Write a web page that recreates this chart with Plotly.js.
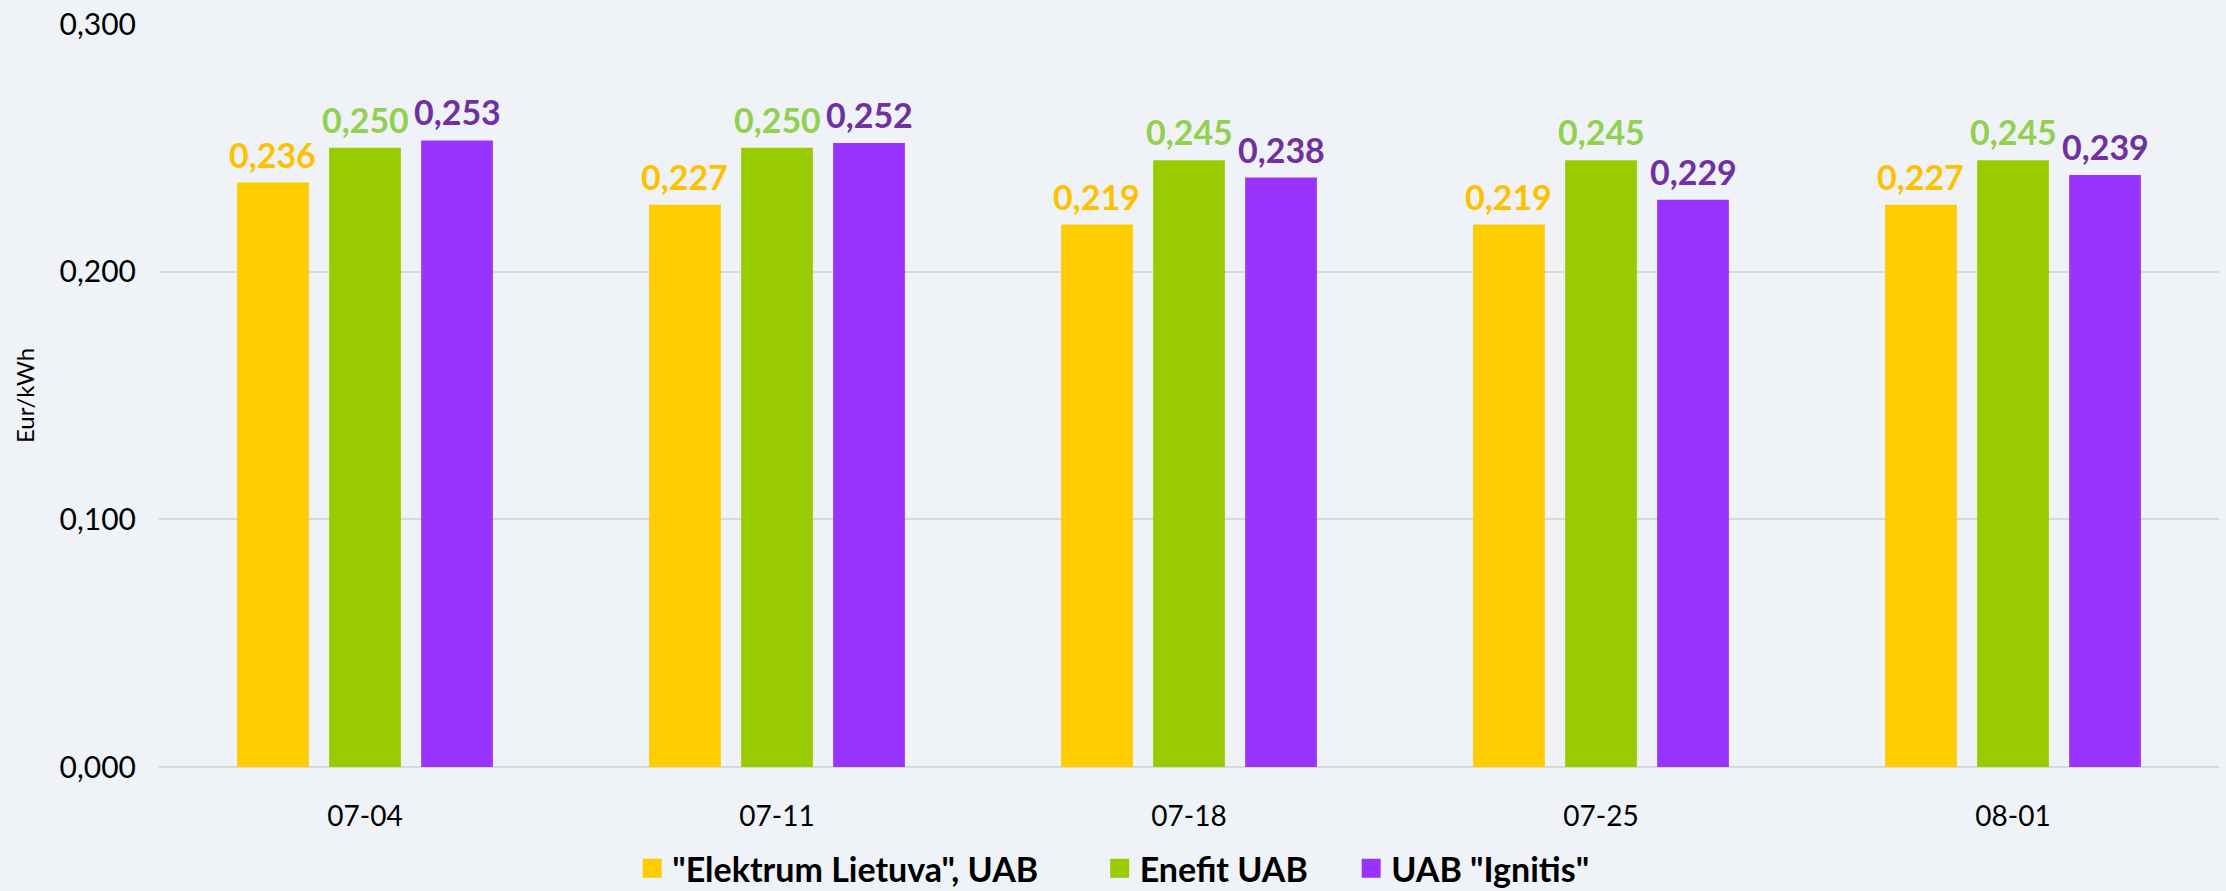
<!DOCTYPE html>
<html>
<head>
<meta charset="utf-8">
<script src="https://cdn.plot.ly/plotly-3.0.1.min.js"></script>
<style>html,body{margin:0;padding:0;background:#EFF3F7;}#chart{width:2226px;height:891px;}</style>
</head>
<body>
<div id="chart"></div>
<script>
const categories = ["07-04", "07-11", "07-18", "07-25", "08-01"];
const seriesNames = ["\"Elektrum Lietuva\", UAB", "Enefit UAB", "UAB \"Ignitis\""];
const elektrum = [0.236, 0.227, 0.219, 0.219, 0.227];
const enefit = [0.250, 0.250, 0.245, 0.245, 0.245];
const ignitis = [0.253, 0.252, 0.238, 0.229, 0.239];
const yTicks = [0, 0.1, 0.2, 0.3];

const barColors = ["#FFCC00", "#99CC00", "#9933FF"];
const labelColors = ["#FFC000", "#92D050", "#7030A0"];
const values = [elektrum, enefit, ignitis];
const BARGAP = 0.33;
const legendIds = ['legend', 'legend2', 'legend3'];
const legendX = [0.284, 0.494, 0.607];

const fmt = v => v.toFixed(3).replace('.', ',');

const traces = values.map((vals, i) => ({
  type: 'bar',
  name: seriesNames[i],
  x: categories,
  y: vals,
  marker: {color: barColors[i]},
  showlegend: false,
  hoverinfo: 'x+y'
}));

// legend-only entries with larger square swatches
values.forEach((vals, i) => {
  traces.push({
    type: 'scatter',
    mode: 'markers',
    name: seriesNames[i],
    x: [null],
    y: [null],
    legend: legendIds[i],
    marker: {symbol: 'square', size: 16, color: barColors[i], line: {width: 3, color: barColors[i]}},
    showlegend: true,
    hoverinfo: 'skip'
  });
});

// value labels placed at each bar's top via the axis scales
const slot = (1 - BARGAP) / values.length;
const annotations = [];
values.forEach((vals, j) => {
  vals.forEach((v, i) => {
    annotations.push({
      xref: 'x', yref: 'y',
      x: i + (j - (values.length - 1) / 2) * slot,
      y: v,
      text: fmt(v),
      showarrow: false,
      yanchor: 'bottom',
      yshift: 6,
      font: {family: 'Lato, sans-serif', size: 34, color: labelColors[j], weight: 'bold'}
    });
  });
});

const legendBase = {
  orientation: 'h',
  xref: 'container', yref: 'container',
  xanchor: 'left',
  y: 0.025, yanchor: 'middle',
  font: {family: 'Lato, sans-serif', size: 34, color: '#000000', weight: 'bold'},
  itemwidth: 30,
  itemsizing: 'trace',
  bgcolor: 'rgba(0,0,0,0)'
};

const layout = {
  width: 2226,
  height: 891,
  paper_bgcolor: '#EFF3F7',
  plot_bgcolor: '#EFF3F7',
  separators: ', ',
  font: {family: 'Lato, sans-serif', size: 28, color: '#000000'},
  margin: {l: 159, r: 7, t: 24, b: 124},
  barmode: 'group',
  bargap: BARGAP,
  bargroupgap: 0.22,
  showlegend: true,
  annotations: annotations,
  xaxis: {
    type: 'category',
    range: [-0.5, categories.length - 0.5],
    tickfont: {family: 'Lato, sans-serif', size: 28, color: '#000000'},
    showline: false,
    showgrid: false,
    zeroline: false,
    ticks: '',
    ticklabelstandoff: 30
  },
  yaxis: {
    range: [0, 0.3],
    tickvals: yTicks,
    ticktext: yTicks.map(fmt),
    showgrid: true,
    gridcolor: '#D9D9D9',
    gridwidth: 2,
    zeroline: true,
    zerolinecolor: '#D9D9D9',
    zerolinewidth: 2,
    ticks: '',
    ticklabelstandoff: 22,
    tickfont: {family: 'Lato, sans-serif', size: 30, color: '#000000'},
    title: {text: 'Eur/kWh', font: {family: 'Lato, sans-serif', size: 24, color: '#000000'}, standoff: 18}
  }
};
legendIds.forEach((id, i) => {
  layout[id] = Object.assign({}, legendBase, {x: legendX[i]});
});

Plotly.newPlot('chart', traces, layout, {displayModeBar: false, staticPlot: true});
</script>
</body>
</html>
